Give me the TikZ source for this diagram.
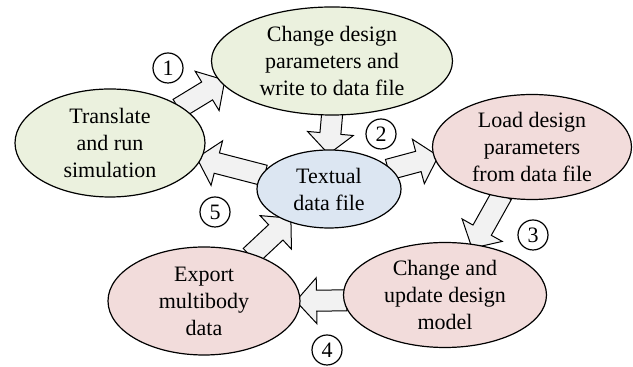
\documentclass[tikz,border=0pt]{standalone}
\usepackage{fontspec}
\setmainfont{Liberation Serif}
\usepackage{tikz}
\usetikzlibrary{shapes.geometric,shapes.arrows,calc}
\definecolor{leaf}{HTML}{EBF1DE}
\definecolor{rose}{HTML}{F2DCDB}
\definecolor{sky}{HTML}{DCE6F2}
\definecolor{pale}{HTML}{F2F2F2}
\pgfdeclarelayer{back}
\pgfsetlayers{back,main}
\tikzset{pix/.style=
   {x=0.5pt, y=-0.5pt}}
\tikzset{task/.style={ellipse, draw, line width=0.6pt, inner sep=0pt, align=center, font=\fontsize{11}{13.5}\selectfont},
   num/.style={circle, draw, line width=0.6pt, inner sep=0pt, minimum size=15pt, font=\fontsize{11}{13.5}\selectfont},
   flowarrow/.style={single arrow, draw, fill=pale, line width=0.5pt, inner xsep=0pt, inner ysep=5pt,
      single arrow head extend=6.25pt, single arrow tip angle=96}}
\newcommand{\bigflow}[2]{\path let \p1=($(#1)!-4pt!(#2)$), \p2=(#2), \n1={veclen(\x2-\x1,\y2-\y1)} in
   (\p1)--(\p2) node[midway, sloped, allow upside down, flowarrow, minimum height=\n1] {};}

\begin{document}
\begin{tikzpicture}[pix]
\useasboundingbox (0,0) rectangle (633,367);
\node[task, fill=leaf, minimum width=95pt, minimum height=54pt] (trans) at (110,143) {Translate\\and run\\simulation};
\node[task, fill=leaf, minimum width=120.5pt, minimum height=54pt] (chg) at (332,61) {Change design\\parameters and\\write to data file};
\node[task, fill=sky, minimum width=72pt, minimum height=39pt] (txt) at (329,189) {Textual\\data file};
\node[task, fill=rose, minimum width=99.5pt, minimum height=52.5pt] (load) at (532,147) {Load design\\parameters\\from data file};
\node[task, fill=rose, minimum width=101.5pt, minimum height=52.5pt] (upd) at (445,295) {Change and\\update design\\model};
\node[task, fill=rose, minimum width=96pt, minimum height=54pt] (exp) at (204,301) {Export\\multibody\\data};

\node[num] (n1) at (168,68) {1};
\node[num] (n2) at (381,134) {2};
\node[num] (n3) at (533,235) {3};
\node[num] (n4) at (327,350) {4};
\node[num] (n5) at (215,212) {5};

\begin{pgfonlayer}{back}
\bigflow{trans.27}{chg.191}
\bigflow{chg.270}{txt.90}
\bigflow{txt.18}{load.186}
\bigflow{load.238}{upd.60}
\bigflow{upd.183}{exp.0}
\bigflow{exp.44}{txt.218}
\bigflow{txt.168}{trans.350}
\end{pgfonlayer}
\end{tikzpicture}
\end{document}
